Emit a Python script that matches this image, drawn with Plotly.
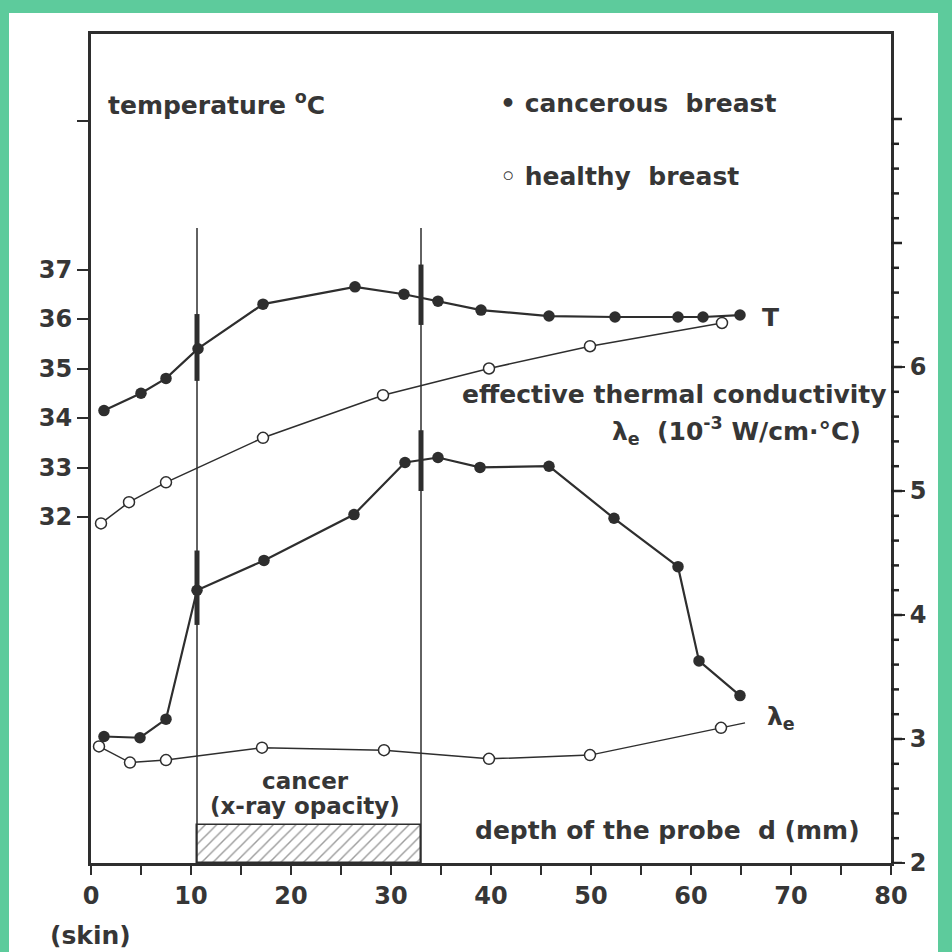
import plotly.graph_objects as go

# ---------------- data ----------------
depth_T_cancer = [1.3, 5.0, 7.5, 10.7, 17.2, 26.4, 31.3, 34.7, 39.0, 45.8, 52.4, 58.7, 61.2, 64.9]
T_cancer = [34.15, 34.5, 34.8, 35.4, 36.3, 36.65, 36.5, 36.36, 36.18, 36.06, 36.04, 36.04, 36.04, 36.08]

depth_T_healthy = [1.0, 3.8, 7.5, 17.2, 29.2, 39.8, 49.9, 63.1]
T_healthy = [31.87, 32.3, 32.7, 33.6, 34.46, 35.0, 35.45, 35.92]

depth_L_cancer = [1.3, 4.9, 7.5, 10.6, 17.3, 26.3, 31.4, 34.7, 38.9, 45.8, 52.3, 58.7, 60.8, 64.9]
L_cancer = [3.02, 3.01, 3.16, 4.20, 4.44, 4.81, 5.23, 5.27, 5.19, 5.20, 4.78, 4.39, 3.63, 3.35]

depth_L_healthy = [0.8, 3.9, 7.5, 17.1, 29.3, 39.8, 49.9, 63.0]
L_healthy = [2.94, 2.81, 2.83, 2.93, 2.91, 2.84, 2.87, 3.09]
L_healthy_line_end = (65.4, 3.13)

cancer_start, cancer_end = 10.6, 33.0
cancer_box_top = 2.31          # on the lambda scale
marker_line_top = 7.12         # top of the vertical region lines (lambda scale)
T_bar_10 = (34.75, 36.1)
L_bar_10 = (3.92, 4.52)
T_bar_33 = (35.88, 37.1)
L_bar_33 = (5.0, 5.49)

x_ticks = list(range(0, 85, 5))
x_labels = [str(v) if v % 10 == 0 else "" for v in x_ticks]
T_ticks = [32, 33, 34, 35, 36, 37, 40]
T_labels = ["32", "33", "34", "35", "36", "37", ""]
L_major = [2, 3, 4, 5, 6]
L_major_labels = ["2", "3", "4", "5", "6"]
L_all_ticks = [round(2 + 0.2 * i, 1) for i in range(31)]

# ---------------- layout geometry ----------------
W = H = 952
PL, PR, PT, PB = 91, 891, 34, 863
T_range = [32 - (PB - 517) / 49.5, 32 + (517 - PT) / 49.5]
L_range = [2, 2 + (PB - PT) / 124.0]

INK = "#2e2e2e"
TXT = "#363636"
GREEN = "#5dcb9c"
FONT = "DejaVu Sans"


def px(x):
    return (x - PL) / (PR - PL)


def py(y):
    return (PB - y) / (PB - PT)


fig = go.Figure()

# hatched cancer region
fig.add_trace(go.Bar(
    x=[(cancer_start + cancer_end) / 2], y=[cancer_box_top - 2], base=[2],
    width=[cancer_end - cancer_start], yaxis="y2",
    marker=dict(color="white", line=dict(color=INK, width=1.5),
                pattern=dict(shape="/", fgcolor="#3a3a3a", bgcolor="white", size=8, solidity=0.18)),
    showlegend=False, hoverinfo="skip"))

fig.add_trace(go.Scatter(x=depth_T_cancer, y=T_cancer, mode="lines+markers", yaxis="y",
                         line=dict(color=INK, width=2.2),
                         marker=dict(size=11.5, color=INK), showlegend=False))
fig.add_trace(go.Scatter(x=depth_T_healthy, y=T_healthy, mode="lines+markers", yaxis="y",
                         line=dict(color=INK, width=1.5),
                         marker=dict(size=11, color="white", line=dict(color=INK, width=1.5)),
                         showlegend=False))
fig.add_trace(go.Scatter(x=depth_L_cancer, y=L_cancer, mode="lines+markers", yaxis="y2",
                         line=dict(color=INK, width=2.2),
                         marker=dict(size=11.5, color=INK), showlegend=False))
fig.add_trace(go.Scatter(x=depth_L_healthy + [L_healthy_line_end[0]],
                         y=L_healthy + [L_healthy_line_end[1]], mode="lines", yaxis="y2",
                         line=dict(color=INK, width=1.5), showlegend=False))
fig.add_trace(go.Scatter(x=depth_L_healthy, y=L_healthy, mode="markers", yaxis="y2",
                         marker=dict(size=11, color="white", line=dict(color=INK, width=1.5)),
                         showlegend=False))

shapes = []
# right-hand lambda scale tick marks, positioned on the y2 scale
for v in L_all_ticks:
    major = abs(v - round(v)) < 1e-9
    shapes.append(dict(type="line", xref="paper", yref="y2", x0=1.0, x1=px(PR + (11 if major else 8)),
                       y0=v, y1=v, line=dict(color="#222222", width=2.5), layer="above"))
# vertical region lines
for xv in (cancer_start, cancer_end):
    shapes.append(dict(type="line", xref="x", yref="y2", x0=xv, x1=xv, y0=2, y1=marker_line_top,
                       line=dict(color=INK, width=1.5)))
# thick bars
for xv, (a, b) in ((cancer_start, T_bar_10), (cancer_end, T_bar_33)):
    shapes.append(dict(type="line", xref="x", yref="y", x0=xv, x1=xv, y0=a, y1=b,
                       line=dict(color=INK, width=5)))
for xv, (a, b) in ((cancer_start, L_bar_10), (cancer_end, L_bar_33)):
    shapes.append(dict(type="line", xref="x", yref="y2", x0=xv, x1=xv, y0=a, y1=b,
                       line=dict(color=INK, width=5)))
# green scan border strips
for (x0, x1, y0, y1) in ((0, 9, 0, 952), (0, 952, 0, 13), (938, 952, 0, 952)):
    shapes.append(dict(type="rect", xref="paper", yref="paper", x0=px(x0), x1=px(x1),
                       y0=py(y1), y1=py(y0), line=dict(width=0), fillcolor=GREEN, layer="above"))


def ann(text, x, y, xanchor="left", size=25):
    return dict(text=text, xref="paper", yref="paper", x=px(x), y=py(y), xanchor=xanchor,
                yanchor="middle", showarrow=False,
                font=dict(family=FONT, size=size, color=TXT, weight="bold"))


annotations = [
    ann("temperature <sup>o</sup>C", 106, 103),
    ann("• cancerous  breast", 498, 103),
    ann("◦ healthy  breast", 498, 177),
    ann("T", 760, 317),
    ann("effective thermal conductivity", 889, 394, "right"),
    ann("λ<sub>e</sub>  (10<sup>-3</sup> W/cm·°C)", 863, 431, "right"),
    ann("λ<sub>e</sub>", 765, 718),
    ann("cancer", 305, 781, "center", 23),
    ann("(x-ray opacity)", 305, 806, "center", 23),
    ann("depth of the probe  d (mm)", 862, 830, "right"),
    ann("(skin)", 48, 935),
]

tickfont = dict(family=FONT, size=24, color=TXT, weight="bold")

fig.update_layout(
    width=W, height=H,
    margin=dict(l=PL, r=W - PR, t=PT, b=H - PB, pad=0, autoexpand=False),
    paper_bgcolor="white", plot_bgcolor="white",
    showlegend=False, bargap=0,
    xaxis=dict(range=[0, 80], showline=True, linewidth=3, linecolor=INK, mirror=True,
               ticks="outside", ticklen=9, tickwidth=2, tickcolor=INK,
               tickmode="array", tickvals=x_ticks, ticktext=x_labels, tickfont=tickfont,
               showgrid=False, zeroline=False),
    yaxis=dict(range=T_range, showline=True, linewidth=3, linecolor=INK,
               ticks="outside", ticklen=11, tickwidth=2, tickcolor=INK,
               tickmode="array", tickvals=T_ticks, ticktext=T_labels, tickfont=tickfont,
               showgrid=False, zeroline=False),
    yaxis2=dict(range=L_range, overlaying="y", side="right", showline=True, linewidth=3,
                linecolor=INK, ticks="outside", ticklen=11, tickwidth=2, tickcolor=INK,
                tickmode="array", tickvals=L_major, ticktext=L_major_labels, tickfont=tickfont,
                showgrid=False, zeroline=False),
    shapes=shapes,
    annotations=annotations,
)

fig.write_html("out.html")
